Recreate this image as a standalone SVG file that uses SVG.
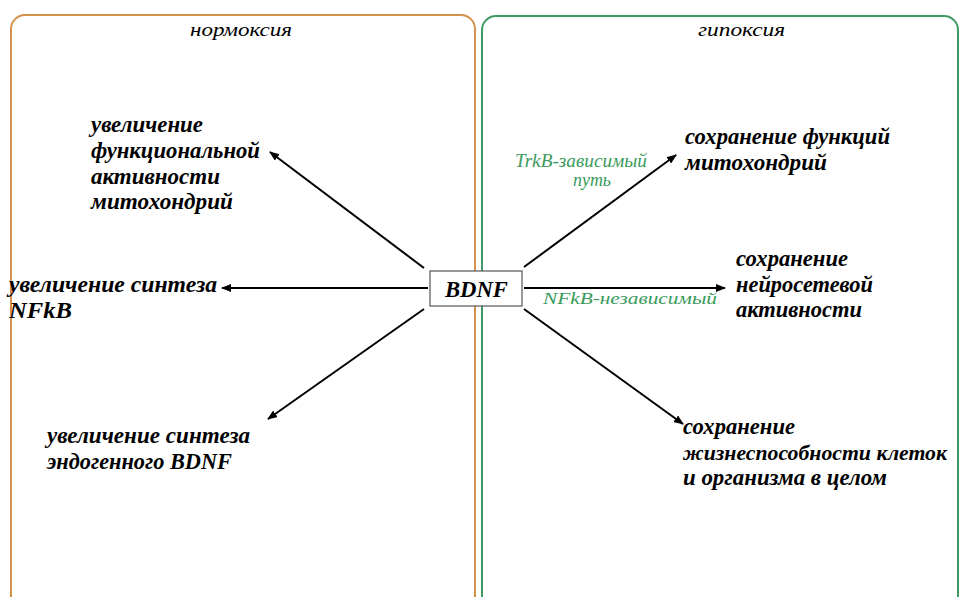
<svg xmlns="http://www.w3.org/2000/svg" width="959" height="597" viewBox="0 0 959 597">
<defs>
<marker id="ah" markerWidth="10" markerHeight="8" refX="9" refY="4" orient="auto" markerUnits="userSpaceOnUse">
<path d="M0,0 L10,4 L0,8 Z" fill="#000"/>
</marker>
<style>
text{font-family:'Liberation Serif','Times New Roman',serif}
.t{font-style:italic;font-weight:bold;font-size:24px;fill:#000}
.h{font-style:italic;font-size:19px;fill:#000}
.g{font-style:italic;fill:#3a9a5c}
.c{stroke:#000;stroke-width:2;fill:none;marker-end:url(#ah)}
</style>
</defs>
<rect width="959" height="597" fill="#fff"/>
<g id="normoxia">
<rect x="11" y="15" width="464" height="600" rx="14" fill="none" stroke="#d4914a" stroke-width="2"/>
<text class="h" x="190" y="36" textLength="102" lengthAdjust="spacingAndGlyphs">нормоксия</text>
</g>
<g id="hypoxia">
<rect x="482" y="16" width="476" height="600" rx="14" fill="none" stroke="#3e9a62" stroke-width="2"/>
<text class="h" x="698" y="36" textLength="87" lengthAdjust="spacingAndGlyphs">гипоксия</text>
</g>
<g id="connectors">
<line class="c" x1="424" y1="268" x2="270" y2="152"/>
<line class="c" x1="428" y1="288" x2="222" y2="288"/>
<line class="c" x1="424" y1="309" x2="268" y2="419"/>
<line class="c" x1="524" y1="267" x2="676" y2="155"/>
<line class="c" x1="524" y1="288" x2="725" y2="288"/>
<line class="c" x1="524" y1="309" x2="683" y2="424"/>
</g>
<g id="bdnf">
<rect x="430" y="271" width="92" height="35" fill="#fff" stroke="#555" stroke-width="1.2"/>
<text class="t" x="445" y="297" textLength="63" lengthAdjust="spacingAndGlyphs">BDNF</text>
</g>
<g id="n1">
<text class="t" x="91" y="132" textLength="112" lengthAdjust="spacingAndGlyphs">увеличение</text>
<text class="t" x="91" y="158" textLength="169" lengthAdjust="spacingAndGlyphs">функциональной</text>
<text class="t" x="91" y="184" textLength="129" lengthAdjust="spacingAndGlyphs">активности</text>
<text class="t" x="91" y="209" textLength="142" lengthAdjust="spacingAndGlyphs">митохондрий</text>
</g>
<g id="n2">
<text class="t" x="9" y="292" textLength="208" lengthAdjust="spacingAndGlyphs">увеличение синтеза</text>
<text class="t" x="9" y="318" textLength="63" lengthAdjust="spacingAndGlyphs">NFkB</text>
</g>
<g id="n3">
<text class="t" x="47" y="443" textLength="203" lengthAdjust="spacingAndGlyphs">увеличение синтеза</text>
<text class="t" x="47" y="469" textLength="185" lengthAdjust="spacingAndGlyphs">эндогенного BDNF</text>
</g>
<g id="n4">
<text class="t" x="685" y="144" textLength="205" lengthAdjust="spacingAndGlyphs">сохранение функций</text>
<text class="t" x="685" y="170" textLength="142" lengthAdjust="spacingAndGlyphs">митохондрий</text>
</g>
<g id="n5">
<text class="t" x="736" y="266" textLength="112" lengthAdjust="spacingAndGlyphs">сохранение</text>
<text class="t" x="736" y="292" textLength="137" lengthAdjust="spacingAndGlyphs">нейросетевой</text>
<text class="t" x="736" y="317" textLength="126" lengthAdjust="spacingAndGlyphs">активности</text>
</g>
<g id="n6">
<text class="t" x="683" y="434" textLength="112" lengthAdjust="spacingAndGlyphs">сохранение</text>
<text class="t" x="683" y="460" style="font-size:22px" textLength="264" lengthAdjust="spacingAndGlyphs">жизнеспособности клеток</text>
<text class="t" x="683" y="485" textLength="204" lengthAdjust="spacingAndGlyphs">и организма в целом</text>
</g>
<g id="labels">
<text class="g" x="515" y="167" style="font-size:19px" textLength="132" lengthAdjust="spacingAndGlyphs">TrkB-зависимый</text>
<text class="g" x="573" y="186" style="font-size:19px" textLength="38" lengthAdjust="spacingAndGlyphs">путь</text>
<text class="g" x="543" y="304" style="font-size:17px" textLength="174" lengthAdjust="spacingAndGlyphs">NFkB-независимый</text>
</g>
</svg>
